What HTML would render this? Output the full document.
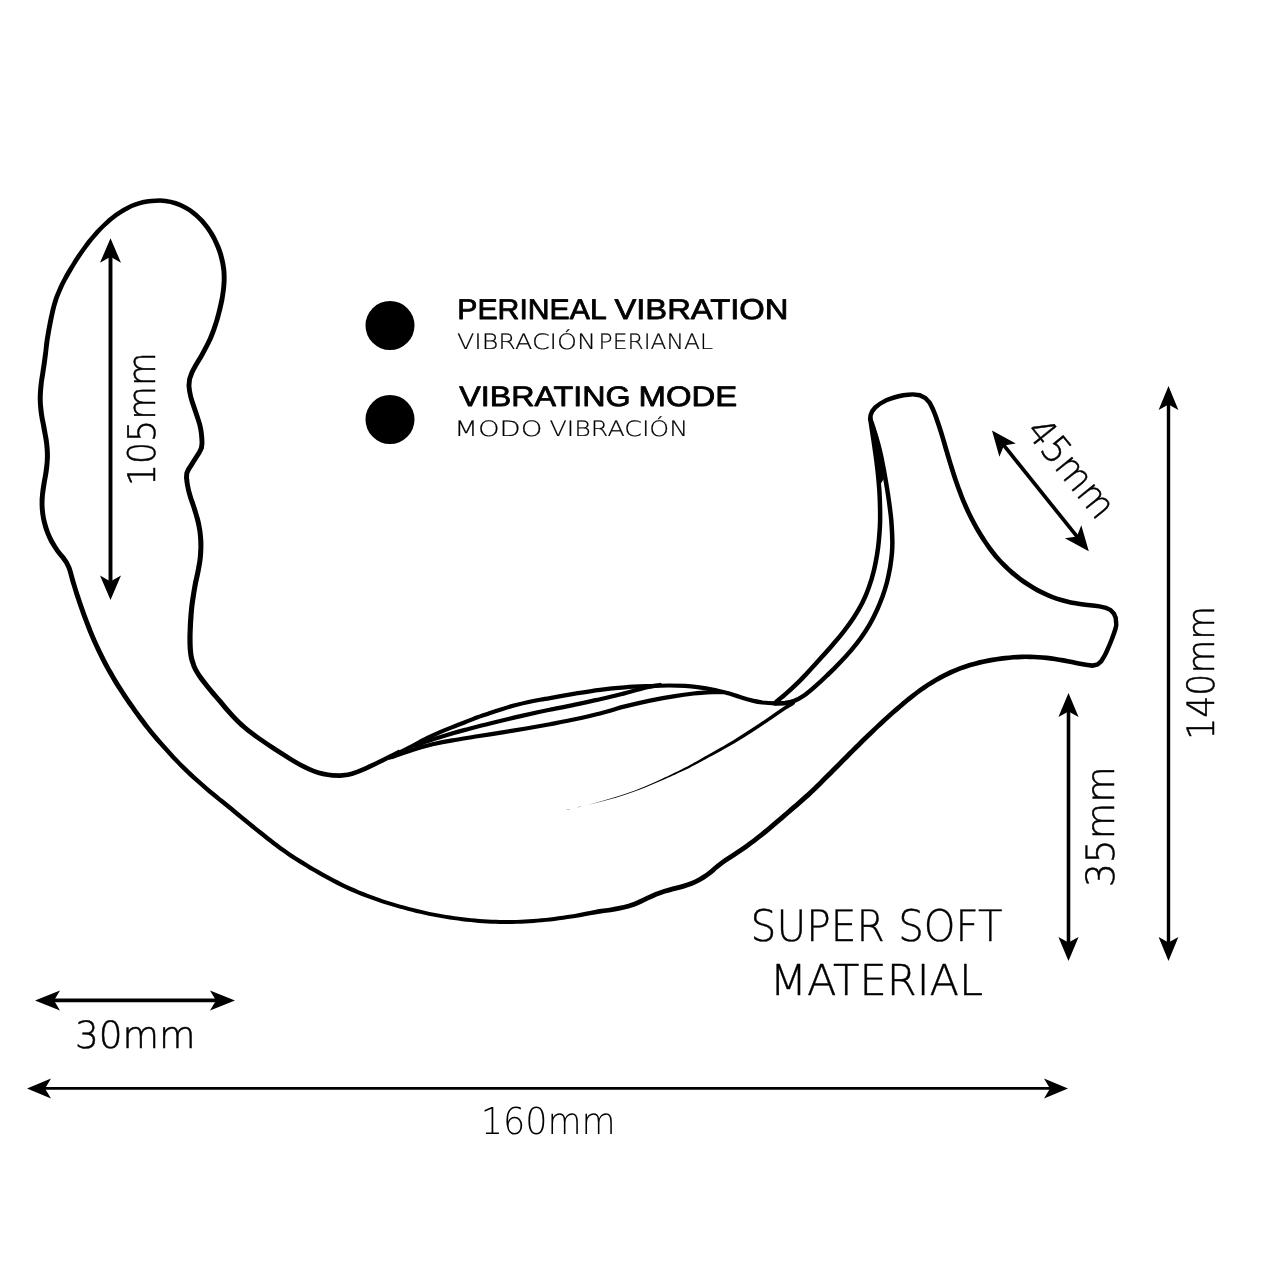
<!DOCTYPE html>
<html lang="en"><head><meta charset="utf-8"><title>Product dimensions</title>
<style>html,body{margin:0;padding:0;background:#fff}svg{display:block;will-change:transform;text-rendering:geometricPrecision}</style></head>
<body><svg width="1280" height="1280" viewBox="0 0 1280 1280">
<rect width="1280" height="1280" fill="#fff"/>
<path d="M872.6 419.3L872.8 415.7L874.1 412.4L876.9 408.9L881.2 405.6L887.2 402.3L890.7 400.9L894.7 399.7L899.2 398.5L903.8 397.5L908.5 396.9L912.7 396.6L919.2 397.5L923.9 399.8L927.8 404.0L930.7 409.9L932.2 413.4L933.7 417.5L935.4 422.4L937.1 427.6L938.7 432.6L940.3 437.7L941.7 442.5L943.3 448.2L944.4 451.8L945.6 455.9L946.9 460.2L948.2 464.4L949.4 468.5L950.7 472.6L952.0 476.7L953.4 480.8L954.8 484.8L956.3 489.0L957.8 493.0L959.3 496.9L961.2 501.8L963.2 506.4L965.2 511.0L967.4 515.4L969.5 519.8L971.9 524.2L974.2 528.5L976.8 532.9L979.4 537.3L981.6 540.7L983.9 544.1L986.2 547.5L988.7 550.9L991.2 554.2L993.8 557.4L996.5 560.6L999.3 563.6L1003.1 567.5L1006.9 571.1L1010.9 574.7L1015.0 578.0L1019.1 581.2L1023.3 584.2L1027.7 587.1L1032.1 589.8L1036.7 592.4L1041.4 594.8L1046.2 597.0L1051.0 599.1L1055.8 600.8L1060.6 602.3L1065.4 603.6L1070.3 604.7L1075.2 605.6L1079.6 606.3L1085.0 607.0L1089.8 607.6L1094.7 608.1L1099.0 608.6L1105.3 609.9L1109.2 611.8L1111.9 614.8L1113.5 618.2L1114.1 624.9L1113.1 628.7L1111.6 633.3L1109.9 637.9L1107.9 642.9L1106.3 646.7L1104.6 650.6L1103.0 653.9L1099.5 659.8L1096.5 662.4L1092.4 663.3L1087.8 662.7L1080.4 661.5L1076.7 660.7L1072.3 659.8L1068.0 658.9L1063.8 658.1L1059.5 657.4L1055.3 656.7L1051.1 656.1L1046.9 655.6L1042.7 655.2L1038.5 654.9L1034.3 654.7L1030.0 654.6L1025.8 654.5L1021.6 654.6L1017.4 654.8L1013.2 655.0L1009.0 655.4L1004.7 655.8L1000.5 656.3L996.3 656.9L992.1 657.6L988.0 658.3L983.8 659.2L979.4 660.1L974.5 661.4L969.4 662.8L964.3 664.4L959.3 666.2L954.5 668.2L949.9 670.1L946.0 672.0L942.4 673.8L938.7 675.8L934.8 678.0L930.7 680.4L926.3 683.2L922.9 685.5L919.3 688.0L915.4 690.9L911.0 694.3L908.1 696.6L905.1 699.0L902.0 701.6L898.7 704.4L895.3 707.3L891.9 710.3L888.5 713.3L885.5 716.0L882.4 718.8L879.2 721.7L876.1 724.7L872.9 727.7L869.7 730.7L866.5 733.8L863.3 736.8L860.2 739.8L857.1 742.9L853.9 746.1L850.8 749.2L847.6 752.3L844.5 755.5L841.4 758.6L838.3 761.8L835.0 765.0L831.7 768.3L828.3 771.7L824.9 775.1L821.7 778.3L818.6 781.4L815.7 784.2L813.2 786.7L809.2 790.5L806.2 793.3L803.6 795.6L800.8 798.1L797.8 800.8L794.7 803.5L791.6 806.1L788.5 808.8L785.5 811.4L782.4 814.0L779.3 816.7L776.0 819.6L773.0 822.1L769.9 824.7L766.7 827.5L763.5 830.1L760.3 832.7L756.4 835.8L752.4 838.9L748.5 841.8L744.9 844.4L740.5 847.5L736.4 850.2L732.3 852.9L728.0 855.7L723.8 858.6L720.1 861.2L716.5 864.0L713.5 866.5L709.8 869.7L705.7 873.0L702.4 875.1L698.9 877.3L695.2 879.3L691.2 881.0L687.0 882.5L683.0 883.8L677.7 885.2L672.3 886.6L668.1 887.8L663.8 889.0L659.5 890.5L655.1 892.1L650.8 894.0L646.9 895.7L642.8 897.7L638.9 899.6L634.0 901.7L628.2 903.8L623.5 905.0L618.1 906.1L613.0 907.1L608.1 907.9L603.4 908.5L599.1 909.1L594.4 910.0L589.5 910.9L585.3 911.8L580.5 912.8L574.6 913.9L571.1 914.4L567.1 915.1L562.8 915.7L558.4 916.3L554.0 916.9L549.8 917.4L545.6 917.9L541.5 918.3L537.3 918.7L533.2 919.0L529.0 919.3L524.9 919.5L520.7 919.7L516.6 919.9L512.5 919.9L508.3 920.0L504.2 920.0L500.0 919.9L495.9 919.8L491.8 919.7L487.6 919.5L483.5 919.2L479.3 918.9L475.2 918.5L471.0 918.2L466.9 917.7L462.7 917.3L458.6 916.7L454.4 916.2L450.3 915.6L446.1 914.9L442.0 914.2L437.9 913.5L433.7 912.7L429.6 911.9L425.4 911.0L421.3 910.0L417.1 909.1L413.0 908.0L408.8 907.0L404.6 905.8L400.5 904.7L396.3 903.5L392.2 902.3L388.0 901.0L383.9 899.7L379.8 898.3L375.7 896.8L371.5 895.3L367.4 893.7L363.3 892.1L359.1 890.4L355.0 888.6L350.9 886.8L346.8 884.9L342.7 882.9L338.6 880.8L334.4 878.7L330.3 876.5L326.1 874.2L322.5 872.2L318.7 870.1L315.0 867.9L311.2 865.7L307.6 863.5L304.1 861.3L300.8 859.3L296.6 856.7L292.9 854.3L289.4 851.9L285.7 849.3L281.7 846.4L278.5 844.0L275.1 841.5L271.7 838.8L268.1 835.9L264.5 833.1L260.9 830.2L257.3 827.4L253.8 824.5L250.3 821.7L246.8 818.8L243.2 815.9L239.7 813.0L236.1 810.1L232.6 807.1L229.5 804.6L226.4 802.1L223.3 799.6L220.2 797.2L217.1 794.6L214.0 792.1L210.9 789.5L207.9 786.9L204.8 784.2L201.7 781.5L198.6 778.7L195.5 776.0L192.4 773.1L189.4 770.3L186.3 767.3L183.2 764.3L180.4 761.5L177.6 758.5L174.7 755.4L171.8 752.2L168.9 749.1L166.2 746.0L163.5 743.0L161.1 740.2L158.8 737.6L155.4 733.5L152.5 730.0L149.9 726.7L147.4 723.5L144.9 720.1L142.2 716.5L139.6 713.0L137.0 709.4L134.5 705.8L132.0 702.2L129.4 698.4L126.9 694.7L124.4 690.9L121.9 687.1L119.5 683.2L117.2 679.4L114.8 675.5L112.6 671.6L110.3 667.7L108.2 663.8L106.1 659.8L104.1 655.8L102.1 651.8L100.2 647.8L98.4 644.0L96.4 639.5L94.5 635.1L92.8 630.9L91.1 626.6L89.4 622.3L87.8 617.9L86.2 613.7L84.7 609.5L83.3 605.5L81.9 601.6L80.7 597.8L79.4 593.9L78.1 589.9L76.9 585.9L75.7 582.0L74.7 578.4L73.0 572.3L71.5 567.2L68.6 561.3L65.0 556.0L62.3 552.9L59.5 549.4L56.6 545.0L53.6 539.8L51.7 535.9L49.8 531.5L48.3 527.0L47.0 522.6L45.9 518.0L45.2 513.4L44.7 508.9L44.5 504.4L44.6 499.8L44.9 495.3L45.5 490.7L46.2 486.0L46.9 481.4L47.8 476.7L48.6 471.9L49.2 467.2L49.6 462.4L49.9 457.6L49.9 452.7L49.6 447.9L49.1 443.1L48.5 438.4L47.6 433.8L46.8 429.0L45.8 423.8L44.7 418.6L43.9 413.4L43.3 408.3L42.8 403.2L42.7 398.1L42.9 392.9L43.3 387.7L43.8 382.8L44.4 378.6L45.1 374.6L45.7 370.3L46.4 365.7L47.1 360.8L47.8 355.3L48.2 351.7L48.6 348.0L49.1 344.2L49.6 340.0L50.4 335.4L51.0 331.7L51.8 327.5L52.6 323.2L53.5 318.7L54.4 314.4L55.3 310.4L56.2 306.7L57.5 302.4L58.7 298.6L60.0 295.2L61.5 291.8L63.0 288.3L64.7 284.6L66.5 281.1L68.5 277.5L70.5 273.9L72.7 270.2L75.0 266.3L77.5 262.3L80.1 258.3L82.8 254.3L85.4 250.6L88.0 247.0L90.7 243.5L93.4 240.1L96.1 236.9L98.9 233.7L101.8 230.6L104.8 227.6L107.9 224.8L110.9 222.1L113.9 219.6L117.6 216.7L121.3 214.2L125.0 211.9L128.7 209.9L132.3 208.1L135.9 206.7L139.5 205.5L143.3 204.5L147.3 203.7L151.6 203.2L155.9 202.9L159.9 202.8L165.1 203.2L170.1 204.1L174.9 205.4L179.6 207.2L184.1 209.4L188.5 212.1L191.6 214.4L194.7 217.0L197.7 219.8L200.5 222.7L203.2 225.9L205.7 229.3L208.1 232.8L210.3 236.4L212.3 240.1L214.1 243.9L215.7 247.8L217.2 251.7L218.4 255.5L219.4 259.4L220.3 263.3L220.9 266.9L221.5 271.5L221.7 275.9L221.7 280.5L221.4 285.4L220.9 290.5L220.1 295.9L219.3 300.0L218.4 304.3L217.4 308.6L216.4 312.8L215.3 316.8L214.2 320.8L212.9 324.6L211.7 328.3L209.9 333.0L208.1 337.5L206.0 342.0L204.2 345.6L202.2 349.3L200.2 352.9L198.5 356.0L195.9 360.3L193.8 363.8L191.6 367.7L189.7 371.6L187.2 378.5L186.5 385.6L187.1 391.0L188.3 397.1L189.6 401.7L191.2 406.6L192.9 411.4L194.5 416.2L196.1 420.9L197.4 425.3L198.3 429.5L198.9 433.5L199.3 437.4L199.6 442.8L199.0 447.4L197.0 451.6L194.1 455.9L191.4 460.2L188.9 464.3L186.4 468.1L184.4 472.5L184.0 477.5L184.6 482.8L185.3 486.8L186.2 491.0L187.4 495.6L188.6 499.4L190.0 503.4L191.4 507.5L192.6 511.4L193.8 515.3L194.8 519.1L195.8 522.9L196.6 526.7L197.5 531.8L198.0 536.9L198.3 542.0L198.4 547.2L198.1 552.4L197.8 557.2L197.3 561.3L196.6 565.1L195.8 569.5L195.0 573.5L194.0 577.9L193.0 582.6L192.1 587.6L191.4 591.7L190.7 596.0L190.0 600.5L189.4 605.1L188.9 609.8L188.5 613.9L188.2 618.4L187.9 622.8L187.7 627.2L187.6 631.3L187.4 634.9L187.4 640.8L187.5 645.5L187.7 649.6L188.3 654.9L189.1 659.4L191.6 667.1L193.5 671.1L195.9 675.1L199.0 679.7L202.7 684.6L205.5 688.1L208.4 691.6L211.2 695.0L214.8 699.1L218.4 703.3L221.3 706.7L224.4 710.5L227.6 714.1L230.8 717.5L233.9 720.8L237.1 724.0L240.3 726.9L243.4 729.6L246.6 732.2L251.3 735.8L256.1 739.3L260.9 742.6L265.6 745.8L270.3 749.0L274.9 752.0L279.6 755.1L284.4 758.1L289.1 761.0L293.8 763.8L298.5 766.5L303.3 769.0L308.1 771.3L312.9 773.3L317.8 774.9L322.6 776.2L327.5 777.1L332.3 777.7L340.1 777.9L348.2 777.0L352.6 776.0L358.2 774.1L362.0 772.5L366.2 770.7L371.0 768.5L376.1 766.1L380.1 764.1L384.8 761.7L389.7 759.3L394.3 756.9L398.2 754.9L401.0 753.5L399.0 749.5L396.2 750.9L392.3 752.9L387.6 755.2L382.8 757.7L378.1 760.0L374.1 761.9L369.0 764.3L364.4 766.5L360.2 768.3L356.6 769.8L351.4 771.5L347.5 772.4L339.9 773.2L332.6 773.0L328.3 772.5L323.6 771.6L319.1 770.4L314.6 768.9L310.0 767.0L305.4 764.8L300.8 762.4L296.1 759.7L291.5 757.0L286.9 754.1L282.2 751.1L277.5 748.1L272.9 745.1L268.2 741.9L263.5 738.7L258.8 735.4L254.2 732.0L249.6 728.4L246.5 725.9L243.5 723.3L240.5 720.5L237.5 717.4L234.4 714.2L231.3 710.8L228.2 707.2L225.1 703.5L222.2 700.1L218.6 695.9L215.1 691.7L212.3 688.4L209.4 684.9L206.7 681.6L203.1 676.8L200.1 672.4L197.9 668.7L196.3 665.3L194.1 658.1L193.4 654.2L192.9 649.2L192.7 645.3L192.6 640.8L192.6 635.0L192.7 631.5L192.9 627.5L193.1 623.1L193.4 618.7L193.7 614.3L194.0 610.3L194.5 605.7L195.1 601.2L195.8 596.8L196.4 592.5L197.1 588.5L198.0 583.6L199.0 578.9L200.0 574.5L200.8 570.5L201.6 566.0L202.3 562.0L202.8 557.7L203.2 552.7L203.4 547.3L203.4 541.8L203.0 536.5L202.4 531.1L201.5 525.8L200.7 521.8L199.7 517.8L198.5 513.9L197.4 509.9L196.1 505.9L194.7 501.8L193.3 497.9L192.2 494.3L191.0 489.9L190.1 485.8L189.5 482.1L189.0 477.4L189.2 473.7L190.7 470.5L193.0 466.9L195.6 462.8L198.3 458.5L201.2 454.0L203.8 448.8L204.5 442.9L204.2 437.0L203.8 432.9L203.1 428.6L202.1 424.1L200.7 419.4L199.1 414.6L197.5 409.8L195.9 405.0L194.3 400.3L193.0 396.0L191.9 390.2L191.4 385.6L192.0 379.6L194.2 373.4L195.9 370.0L198.0 366.2L200.1 362.8L202.7 358.4L204.5 355.3L206.5 351.6L208.5 347.8L210.4 344.1L212.6 339.4L214.5 334.8L216.3 330.0L217.6 326.1L218.8 322.2L220.0 318.2L221.1 314.1L222.2 309.8L223.2 305.4L224.2 300.9L224.9 296.6L225.7 291.2L226.3 285.8L226.6 280.7L226.6 275.8L226.4 271.1L225.8 266.2L225.1 262.3L224.2 258.2L223.1 254.1L221.8 250.1L220.3 246.0L218.5 242.0L216.6 237.9L214.5 234.0L212.1 230.3L209.6 226.6L206.8 223.0L204.0 219.6L200.9 216.5L197.8 213.5L194.4 210.8L191.0 208.3L186.3 205.5L181.4 203.0L176.3 201.1L171.1 199.7L165.7 198.8L160.1 198.3L155.7 198.4L151.1 198.7L146.6 199.3L142.3 200.1L138.2 201.2L134.3 202.5L130.5 204.0L126.6 205.9L122.7 208.0L118.8 210.4L114.9 213.1L111.1 216.0L107.9 218.6L104.8 221.4L101.7 224.4L98.6 227.5L95.6 230.6L92.7 233.9L89.9 237.2L87.1 240.6L84.4 244.2L81.7 247.9L79.0 251.7L76.2 255.7L73.6 259.8L71.1 263.9L68.7 267.8L66.4 271.6L64.3 275.3L62.4 278.9L60.5 282.6L58.7 286.3L57.1 289.9L55.6 293.4L54.2 297.0L52.9 301.0L51.6 305.5L50.6 309.2L49.7 313.4L48.7 317.8L47.8 322.2L47.0 326.6L46.2 330.8L45.6 334.6L44.8 339.3L44.2 343.6L43.8 347.5L43.4 351.2L42.9 354.7L42.2 360.1L41.5 365.0L40.8 369.6L40.2 373.8L39.5 377.8L38.9 382.2L38.3 387.3L37.9 392.7L37.7 398.1L37.9 403.4L38.3 408.8L38.9 414.1L39.8 419.5L40.9 424.8L41.8 429.9L42.7 434.7L43.5 439.2L44.2 443.7L44.6 448.3L44.9 452.9L44.9 457.4L44.7 462.0L44.2 466.6L43.6 471.2L42.9 475.8L42.0 480.5L41.2 485.2L40.5 490.0L40.0 494.8L39.6 499.6L39.6 504.4L39.8 509.3L40.3 514.1L41.1 519.0L42.2 523.8L43.5 528.6L45.2 533.3L47.2 537.9L49.2 542.2L52.4 547.6L55.6 552.3L58.5 556.0L61.0 559.0L64.4 563.7L66.9 569.0L68.3 573.6L69.9 579.8L71.0 583.4L72.2 587.3L73.5 591.4L74.7 595.4L76.0 599.3L77.3 603.2L78.6 607.1L80.1 611.2L81.6 615.4L83.2 619.7L84.8 624.0L86.5 628.4L88.2 632.7L90.0 637.0L91.9 641.5L94.0 646.1L95.8 649.9L97.7 653.9L99.7 658.0L101.7 662.1L103.8 666.1L106.0 670.1L108.3 674.1L110.6 678.0L112.9 682.0L115.3 685.9L117.8 689.7L120.3 693.6L122.8 697.4L125.4 701.2L127.9 704.9L130.5 708.6L133.1 712.3L135.7 715.8L138.3 719.4L141.0 723.0L143.6 726.4L146.1 729.6L148.8 732.9L151.8 736.5L155.3 740.7L157.6 743.2L160.1 746.1L162.8 749.0L165.6 752.1L168.5 755.3L171.4 758.4L174.4 761.5L177.3 764.5L180.1 767.4L183.2 770.5L186.3 773.5L189.4 776.4L192.5 779.2L195.7 782.0L198.8 784.8L201.9 787.5L205.0 790.2L208.1 792.9L211.2 795.5L214.3 798.1L217.4 800.6L220.5 803.1L223.6 805.6L226.7 808.1L229.8 810.6L233.3 813.5L236.9 816.4L240.4 819.3L244.0 822.2L247.5 825.1L251.0 828.0L254.6 830.8L258.2 833.7L261.8 836.5L265.4 839.4L269.0 842.2L272.5 844.9L275.9 847.5L279.1 849.9L283.3 852.8L287.0 855.4L290.6 857.9L294.3 860.3L298.5 862.9L301.8 865.0L305.3 867.1L309.0 869.4L312.8 871.6L316.6 873.8L320.4 875.9L324.1 878.0L328.3 880.3L332.4 882.5L336.6 884.7L340.8 886.7L344.9 888.7L349.1 890.7L353.3 892.5L357.5 894.3L361.7 896.0L365.9 897.6L370.1 899.1L374.3 900.6L378.5 902.1L382.7 903.5L386.9 904.8L391.0 906.0L395.2 907.3L399.4 908.5L403.6 909.6L407.8 910.7L412.0 911.8L416.2 912.9L420.4 913.8L424.6 914.8L428.8 915.7L433.0 916.5L437.2 917.3L441.3 918.1L445.5 918.8L449.7 919.4L453.9 920.1L458.1 920.6L462.2 921.2L466.4 921.7L470.6 922.1L474.8 922.5L479.0 922.9L483.2 923.2L487.4 923.4L491.6 923.7L495.8 923.8L500.0 923.9L504.2 924.0L508.3 924.0L512.5 923.9L516.7 923.8L520.9 923.7L525.1 923.5L529.3 923.3L533.5 923.0L537.7 922.6L541.9 922.3L546.0 921.8L550.2 921.4L554.5 920.9L559.0 920.3L563.4 919.7L567.7 919.1L571.7 918.6L575.3 918.0L581.3 917.0L586.2 916.1L590.4 915.3L595.2 914.4L599.8 913.7L604.0 913.1L608.8 912.5L613.8 911.8L619.1 910.8L624.6 909.6L629.6 908.3L635.8 906.2L640.9 903.9L644.9 902.0L649.0 900.0L652.7 898.4L656.9 896.6L661.1 895.0L665.2 893.6L669.5 892.4L673.5 891.2L678.9 889.9L684.4 888.4L688.6 887.0L693.0 885.4L697.2 883.6L701.2 881.5L705.0 879.2L708.5 876.8L712.9 873.4L716.6 870.1L719.5 867.7L722.9 865.0L726.4 862.6L730.7 859.7L735.0 856.9L739.0 854.2L743.2 851.5L747.6 848.4L751.4 845.6L755.3 842.7L759.3 839.6L763.3 836.5L766.5 833.9L769.8 831.2L773.0 828.5L776.2 825.8L779.1 823.3L782.5 820.4L785.6 817.7L788.7 815.1L791.7 812.5L794.8 809.8L797.9 807.2L801.0 804.5L804.1 801.8L806.9 799.3L809.6 796.9L812.6 794.1L816.6 790.2L819.2 787.7L822.0 784.9L825.1 781.8L828.4 778.5L831.8 775.2L835.2 771.8L838.5 768.4L841.7 765.2L844.8 762.1L848.0 758.9L851.1 755.8L854.2 752.6L857.4 749.5L860.5 746.4L863.6 743.3L866.7 740.2L869.8 737.2L873.0 734.2L876.2 731.1L879.3 728.1L882.5 725.2L885.6 722.3L888.6 719.5L891.6 716.8L895.0 713.8L898.4 710.9L901.7 708.0L905.0 705.3L908.1 702.6L911.1 700.2L913.9 698.0L918.2 694.6L922.0 691.8L925.5 689.4L928.9 687.1L933.2 684.4L937.1 682.1L941.0 679.9L944.6 677.9L948.1 676.2L951.9 674.4L956.3 672.5L961.0 670.6L965.8 668.9L970.7 667.3L975.8 665.9L980.5 664.7L984.8 663.7L988.8 662.9L992.9 662.2L997.0 661.5L1001.1 660.9L1005.3 660.4L1009.4 660.0L1013.5 659.6L1017.6 659.4L1021.7 659.2L1025.8 659.1L1030.0 659.2L1034.1 659.3L1038.2 659.5L1042.3 659.8L1046.4 660.2L1050.5 660.7L1054.6 661.2L1058.8 661.9L1062.9 662.7L1067.1 663.4L1071.4 664.3L1075.7 665.2L1079.6 666.0L1087.2 667.3L1092.6 667.9L1098.5 666.4L1103.0 662.7L1107.0 656.1L1108.7 652.5L1110.4 648.5L1112.1 644.6L1114.1 639.5L1115.9 634.7L1117.5 630.0L1118.5 625.1L1117.9 617.2L1115.7 612.2L1111.8 608.2L1106.7 605.7L1099.8 604.2L1095.2 603.6L1090.2 603.0L1085.6 602.5L1080.3 601.8L1076.0 601.1L1071.2 600.2L1066.5 599.1L1061.9 597.8L1057.3 596.4L1052.7 594.7L1048.1 592.8L1043.5 590.6L1038.9 588.2L1034.5 585.8L1030.2 583.1L1026.0 580.3L1021.9 577.4L1017.9 574.3L1014.0 571.1L1010.1 567.7L1006.4 564.1L1002.7 560.4L1000.0 557.5L997.4 554.4L994.9 551.3L992.4 548.1L990.0 544.8L987.7 541.5L985.5 538.1L983.4 534.8L980.8 530.5L978.3 526.2L976.0 521.9L973.7 517.7L971.6 513.4L969.5 509.0L967.5 504.5L965.5 500.0L963.6 495.2L962.2 491.3L960.7 487.4L959.2 483.3L957.8 479.2L956.5 475.2L955.2 471.2L953.9 467.1L952.6 463.1L951.4 458.9L950.1 454.6L948.9 450.5L947.8 446.8L946.2 441.2L944.7 436.3L943.2 431.2L941.6 426.2L939.8 420.9L938.1 415.9L936.4 411.7L934.9 407.9L931.6 401.4L926.7 396.2L920.4 393.1L912.9 392.2L908.0 392.4L903.0 393.1L898.1 394.1L893.5 395.3L889.2 396.7L885.3 398.3L878.8 401.9L873.7 405.7L870.3 410.1L868.4 414.7L868.0 418.9Z" fill="#000"/>
<path d="M390.0 757.5C392.1 756.4 398.3 753.3 402.4 751.1C406.6 749.0 410.9 746.7 415.0 744.5C419.2 742.3 423.3 740.1 427.5 738.0C431.6 735.9 435.9 733.9 440.1 732.1C444.3 730.3 448.3 728.7 452.4 727.1C456.6 725.4 460.8 723.8 465.0 722.2C469.2 720.6 473.4 718.9 477.5 717.3C481.7 715.8 485.8 714.3 490.0 712.9C494.2 711.5 498.3 710.2 502.5 708.9C506.7 707.6 510.8 706.4 515.0 705.3C519.2 704.2 523.3 703.2 527.5 702.3C531.7 701.4 536.3 700.5 540.0 699.8C543.8 699.1 544.1 699.1 550.0 698.1C555.8 697.0 566.7 695.0 575.0 693.6C583.4 692.2 591.7 690.8 600.0 689.8C608.3 688.7 616.7 687.9 625.0 687.3C633.3 686.6 642.7 686.3 650.0 686.0C657.3 685.7 662.9 685.5 668.8 685.5C674.6 685.5 680.2 685.6 685.0 685.8C689.8 686.1 692.5 686.4 697.5 687.1C702.5 687.8 710.0 689.1 715.0 690.1C720.0 691.1 723.3 692.0 727.5 693.1C731.7 694.3 735.8 695.7 740.0 696.9C744.2 698.2 748.8 699.6 752.5 700.6C756.3 701.5 758.8 702.0 762.5 702.5C766.3 702.9 771.2 703.2 775.0 703.3C778.7 703.4 783.3 703.1 785.0 703.1" fill="none" stroke="#000" stroke-width="4.2" stroke-linejoin="round" stroke-linecap="round"/>
<path d="M775.0 703.4C776.7 703.3 781.9 703.4 785.0 703.1C788.1 702.7 790.8 702.2 793.7 701.1C796.6 700.0 799.1 698.8 802.5 696.5C805.9 694.3 809.7 691.2 813.8 687.6C818.0 684.0 823.2 679.2 827.5 675.0C831.9 670.9 836.1 666.7 840.0 662.5C844.0 658.4 847.8 654.2 851.3 650.1C854.9 645.9 858.1 641.9 861.2 637.5C864.3 633.1 867.4 628.3 870.0 623.8C872.6 619.2 874.9 614.6 877.0 610.0C879.1 605.5 880.9 600.9 882.6 596.3C884.2 591.7 885.6 587.3 886.9 582.5C888.1 577.7 889.2 572.5 890.1 567.5C890.9 562.5 891.6 557.2 892.0 552.5C892.3 547.8 892.5 544.7 892.3 539.4C892.2 534.1 891.7 525.8 891.3 520.6C890.9 515.4 890.5 512.8 889.9 508.1C889.3 503.4 888.5 497.7 887.7 492.5C886.9 487.3 885.9 481.6 885.1 476.9C884.3 472.2 883.7 468.8 882.8 464.4C882.0 460.0 880.8 454.5 879.8 450.3C878.8 446.2 878.0 443.3 876.9 439.4C875.8 435.5 874.2 430.3 873.1 426.9C872.0 423.5 870.8 420.3 870.3 419.0" fill="none" stroke="#000" stroke-width="4.5" stroke-linejoin="round" stroke-linecap="round"/>
<path d="M870.3 419.1C870.6 420.9 871.3 426.1 871.9 430.0C872.5 433.9 873.2 438.3 873.8 442.5C874.4 446.7 875.0 450.8 875.6 455.0C876.2 459.2 876.7 463.3 877.2 467.5C877.7 471.7 878.1 475.0 878.5 480.0C878.9 484.9 879.5 490.4 879.7 497.2C880.0 504.0 880.2 513.5 880.1 520.6C880.0 527.7 879.4 534.3 878.9 540.0C878.4 545.8 877.9 549.8 877.0 555.0C876.1 560.2 875.1 565.8 873.7 571.2C872.4 576.7 870.7 582.3 868.8 587.5C867.0 592.7 865.0 597.5 862.5 602.5C859.9 607.5 856.9 612.7 853.8 617.5C850.7 622.3 847.4 626.7 843.8 631.3C840.3 635.9 836.2 640.6 832.5 645.0C828.7 649.4 825.1 653.4 821.3 657.6C817.6 661.8 813.6 666.2 810.0 670.0C806.5 673.9 803.7 676.8 800.0 680.6C796.2 684.3 791.4 688.9 787.4 692.4C783.5 696.0 778.1 700.3 776.2 701.9" fill="none" stroke="#000" stroke-width="4.5" stroke-linejoin="round" stroke-linecap="round"/>
<path d="M415.0 745.5C418.1 744.4 428.6 740.7 433.8 739.0C439.0 737.3 441.0 736.7 446.2 735.2C451.4 733.6 457.7 731.8 465.0 729.9C472.3 728.0 481.7 725.5 490.0 723.5C498.3 721.4 506.6 719.4 515.0 717.4C523.3 715.5 534.2 713.0 540.0 711.7C545.9 710.5 544.2 710.9 550.0 709.7C555.8 708.5 566.6 706.4 575.0 704.6C583.3 702.9 592.7 700.8 600.0 699.2C607.3 697.6 612.6 696.4 618.8 694.8C625.0 693.3 632.6 691.0 637.3 689.8C642.0 688.5 643.4 688.0 647.2 687.2C651.0 686.4 657.9 685.4 660.0 685.0" fill="none" stroke="#000" stroke-width="4.2" stroke-linejoin="round" stroke-linecap="round"/>
<path d="M392.0 757.0C393.8 756.4 397.7 754.9 402.5 753.2C407.4 751.6 416.0 748.8 421.2 747.3C426.4 745.7 428.6 745.2 433.8 744.0C439.0 742.9 445.2 741.7 452.5 740.4C459.7 739.1 469.2 737.7 477.5 736.3C485.9 735.0 494.1 733.7 502.5 732.4C510.8 731.0 519.6 729.5 527.5 728.2C535.4 726.8 542.1 725.6 550.0 724.2C557.9 722.7 566.7 721.1 575.0 719.3C583.3 717.5 593.7 715.1 600.0 713.5C606.2 712.0 608.3 711.2 612.5 710.0C616.7 708.8 618.8 707.9 625.0 706.4C631.3 704.8 641.7 702.3 650.0 700.6C658.3 698.9 667.7 697.3 675.0 696.2C682.3 695.0 689.0 694.1 693.7 693.5C698.5 693.0 700.2 692.9 703.8 692.6C707.3 692.4 711.8 692.3 715.0 692.2C718.2 692.1 721.7 692.2 723.0 692.2" fill="none" stroke="#000" stroke-width="4.2" stroke-linejoin="round" stroke-linecap="round"/>
<path d="M792.8 701.0C791.0 701.4 787.8 704.1 784.0 706.6C780.3 709.1 775.7 712.4 770.3 716.0C764.9 719.7 757.8 724.5 751.6 728.6C745.4 732.7 739.2 736.8 733.0 740.6C726.8 744.4 719.5 748.4 714.3 751.3C709.2 754.3 706.0 756.0 701.9 758.3C697.8 760.6 693.0 763.4 689.5 765.3C686.0 767.2 685.4 767.5 680.8 769.7C676.3 771.9 668.4 775.8 662.2 778.7C656.0 781.6 649.8 784.5 643.6 787.0C637.3 789.6 631.1 791.9 624.9 794.1C618.7 796.2 612.4 798.0 606.2 799.8C600.0 801.6 593.7 803.3 587.5 804.9C581.2 806.4 571.8 808.6 568.7 809.3C565.6 810.1 565.6 810.2 568.8 809.5C571.9 808.8 581.3 806.7 587.5 805.1C593.8 803.6 600.0 802.0 606.3 800.2C612.6 798.5 618.8 796.8 625.1 794.7C631.4 792.7 637.7 790.4 643.9 788.0C650.2 785.5 656.5 782.8 662.8 780.1C669.1 777.3 677.1 773.6 681.7 771.5C686.3 769.4 686.9 769.1 690.5 767.2C694.1 765.4 698.9 762.8 703.1 760.5C707.3 758.2 710.4 756.6 715.7 753.7C720.9 750.8 728.2 746.9 734.5 743.2C740.8 739.5 747.1 735.4 753.4 731.4C759.7 727.3 766.8 722.6 772.2 719.0C777.7 715.3 782.2 712.1 786.0 709.6C789.7 707.1 793.6 705.5 794.7 704.0C795.9 702.6 794.6 700.6 792.8 701.0Z" fill="#000"/>
<polygon points="870.3,419.1 871.9,430.0 873.8,442.5 875.6,455.0 877.2,467.5 878.4,480.0 879.3,486.0 885.0,476.9 882.8,464.4 880.0,450.3 876.9,439.4 873.1,426.9" fill="#000"/>
<circle cx="390" cy="325.5" r="24.5"/><circle cx="390" cy="419.5" r="24.5"/>
<line x1="110.5" y1="255.8" x2="110.5" y2="582.5" stroke="#000" stroke-width="3.9"/><polygon points="110.5,238.3 100.0,262.8 110.5,256.8 121.0,262.8"/><polygon points="110.5,600.0 100.0,575.5 110.5,581.5 121.0,575.5"/>
<line x1="1003.3" y1="444.6" x2="1077.5" y2="537.2" stroke="#000" stroke-width="3.7"/><polygon points="992.0,430.6 999.4,456.7 1003.9,445.4 1015.8,443.5"/><polygon points="1088.8,551.2 1064.9,538.3 1076.9,536.4 1081.3,525.2"/>
<line x1="1168.5" y1="403.5" x2="1168.5" y2="943.6" stroke="#000" stroke-width="3.4"/><polygon points="1168.5,386.0 1158.6,410.0 1168.5,404.5 1178.4,410.0"/><polygon points="1168.5,961.1 1158.6,937.1 1168.5,942.6 1178.4,937.1"/>
<line x1="1068.5" y1="710.4" x2="1068.5" y2="943.6" stroke="#000" stroke-width="3.6"/><polygon points="1068.5,692.9 1058.4,716.9 1068.5,711.4 1078.6,716.9"/><polygon points="1068.5,961.1 1058.4,937.1 1068.5,942.6 1078.6,937.1"/>
<line x1="53.0" y1="1000.4" x2="217.0" y2="1000.4" stroke="#000" stroke-width="3.7"/><polygon points="35.0,1000.4 60.0,1010.4 54.0,1000.4 60.0,990.4"/><polygon points="235.0,1000.4 210.0,1010.4 216.0,1000.4 210.0,990.4"/>
<line x1="44.0" y1="1088.4" x2="1051.0" y2="1088.4" stroke="#000" stroke-width="2.9"/><polygon points="27.0,1088.4 51.0,1098.4 45.0,1088.4 51.0,1078.4"/><polygon points="1068.0,1088.4 1044.0,1098.4 1050.0,1088.4 1044.0,1078.4"/>
<text y="318.6" font-size="28.65" font-family="'Liberation Sans',sans-serif" font-weight="400" stroke="#000" stroke-width="0.80" stroke-linejoin="round"><tspan x="457.3" textLength="148.3" lengthAdjust="spacingAndGlyphs">PERINEAL</tspan> <tspan x="614.4" textLength="174.1" lengthAdjust="spacingAndGlyphs">VIBRATION</tspan></text>
<text y="348.5" font-size="21.20" font-family="'DejaVu Sans Light','DejaVu Sans','Liberation Sans',sans-serif" font-weight="200" stroke="#000" stroke-width="0.20" stroke-linejoin="round"><tspan x="456.9" textLength="139.2" lengthAdjust="spacingAndGlyphs">VIBRACIÓN</tspan> <tspan x="598.6" textLength="114.4" lengthAdjust="spacingAndGlyphs">PERIANAL</tspan></text>
<text y="405.6" font-size="28.20" font-family="'Liberation Sans',sans-serif" font-weight="400" stroke="#000" stroke-width="0.80" stroke-linejoin="round"><tspan x="459.2" textLength="171.3" lengthAdjust="spacingAndGlyphs">VIBRATING</tspan> <tspan x="638.5" textLength="98.7" lengthAdjust="spacingAndGlyphs">MODE</tspan></text>
<text y="436.0" font-size="21.20" font-family="'DejaVu Sans Light','DejaVu Sans','Liberation Sans',sans-serif" font-weight="200" stroke="#000" stroke-width="0.20" stroke-linejoin="round"><tspan x="454.2" textLength="88.3" lengthAdjust="spacingAndGlyphs">MODO</tspan> <tspan x="549.5" textLength="138.7" lengthAdjust="spacingAndGlyphs">VIBRACIÓN</tspan></text>
<text y="941.0" font-size="43.40" font-family="'DejaVu Sans Light','DejaVu Sans','Liberation Sans',sans-serif" font-weight="200" stroke="#000" stroke-width="0.40" stroke-linejoin="round"><tspan x="750.6" textLength="134.1" lengthAdjust="spacingAndGlyphs">SUPER</tspan> <tspan x="898.3" textLength="104.3" lengthAdjust="spacingAndGlyphs">SOFT</tspan></text>
<text x="769.7" y="995.2" font-size="42.5" textLength="213.4" lengthAdjust="spacingAndGlyphs" font-family="'DejaVu Sans Light','DejaVu Sans','Liberation Sans',sans-serif" font-weight="200" stroke="#000" stroke-width="0.40" stroke-linejoin="round">MATERIAL</text>
<text x="74.9" y="1047.9" font-size="37.3" textLength="120.7" lengthAdjust="spacingAndGlyphs" font-family="'DejaVu Sans Light','DejaVu Sans','Liberation Sans',sans-serif" font-weight="200" stroke="#000" stroke-width="0.50" stroke-linejoin="round">30mm</text>
<text x="480.8" y="1134.1" font-size="37.0" textLength="134.9" lengthAdjust="spacingAndGlyphs" font-family="'DejaVu Sans Light','DejaVu Sans','Liberation Sans',sans-serif" font-weight="200" >160mm</text>
<text x="155.3" y="486.1" font-size="38.0" textLength="133.9" lengthAdjust="spacingAndGlyphs" font-family="'DejaVu Sans Light','DejaVu Sans','Liberation Sans',sans-serif" font-weight="200" stroke="#000" stroke-width="0.50" stroke-linejoin="round" transform="rotate(-90 155.3 486.1)">105mm</text>
<text x="1213.7" y="739.8" font-size="37.6" textLength="133.9" lengthAdjust="spacingAndGlyphs" font-family="'DejaVu Sans Light','DejaVu Sans','Liberation Sans',sans-serif" font-weight="200" stroke="#000" stroke-width="0.50" stroke-linejoin="round" transform="rotate(-90 1213.7 739.8)">140mm</text>
<text x="1114.1" y="887.0" font-size="38.9" textLength="120.7" lengthAdjust="spacingAndGlyphs" font-family="'DejaVu Sans Light','DejaVu Sans','Liberation Sans',sans-serif" font-weight="200" stroke="#000" stroke-width="0.50" stroke-linejoin="round" transform="rotate(-90 1114.1 887.0)">35mm</text>
<text x="1024.4" y="431.5" font-size="38.2" textLength="116.0" lengthAdjust="spacingAndGlyphs" font-family="'DejaVu Sans Light','DejaVu Sans','Liberation Sans',sans-serif" font-weight="200" stroke="#000" stroke-width="0.50" stroke-linejoin="round" transform="rotate(51 1024.4 431.5)">45mm</text>
</svg></body></html>
